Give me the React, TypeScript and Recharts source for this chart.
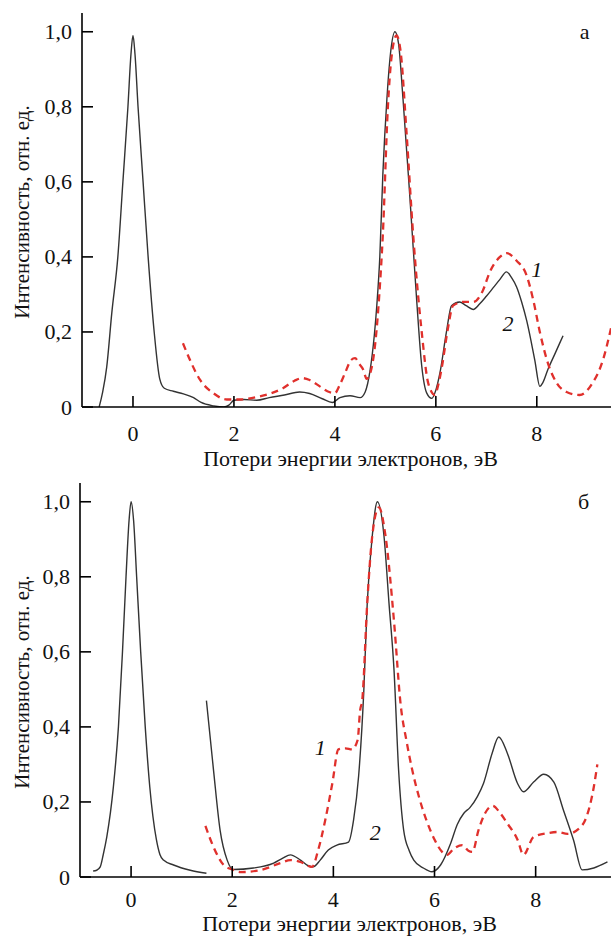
import React from "react";
import { LineChart, Line, XAxis, YAxis, ReferenceDot, Label } from "recharts";

// ---------- data (energy loss, eV ; intensity, rel. units) ----------
const xTicks = [0, 2, 4, 6, 8];
const yTicks = [0, 0.2, 0.4, 0.6, 0.8, 1.0];
const yTickLabels = ["0", "0,2", "0,4", "0,6", "0,8", "1,0"];
const xTitle = "Потери энергии электронов, эВ";
const yTitle = "Интенсивность, отн. ед.";

// panel "а" – curve 2 (solid)
const aCurve2X = [-0.67, -0.6, -0.52, -0.42, -0.3, -0.2, -0.1, -0.04, 0, 0.04, 0.1, 0.2, 0.3, 0.42, 0.53, 0.62, 0.8, 1.0, 1.2, 1.35, 1.6, 1.8, 1.9, 2.0, 2.2, 2.45, 2.7, 3.0, 3.3, 3.5, 3.75, 3.95, 4.1, 4.3, 4.5, 4.6, 4.7, 4.78, 4.83, 4.89, 4.95, 5.03, 5.1, 5.19, 5.26, 5.35, 5.49, 5.62, 5.72, 5.82, 5.92, 6.0, 6.08, 6.21, 6.31, 6.47, 6.6, 6.74, 6.87, 7.0, 7.15, 7.27, 7.4, 7.5, 7.6, 7.7, 7.8, 7.96, 8.06, 8.12, 8.22, 8.37, 8.52];
const aCurve2Y = [0, 0.04, 0.107, 0.25, 0.4, 0.6, 0.8, 0.94, 0.99, 0.94, 0.8, 0.6, 0.4, 0.2, 0.075, 0.05, 0.042, 0.035, 0.025, 0.012, 0.003, 0, 0.005, 0.018, 0.02, 0.018, 0.025, 0.032, 0.04, 0.036, 0.022, 0.012, 0.025, 0.03, 0.025, 0.04, 0.1, 0.19, 0.27, 0.4, 0.62, 0.82, 0.94, 1.0, 0.97, 0.82, 0.55, 0.285, 0.11, 0.037, 0.023, 0.045, 0.09, 0.2, 0.27, 0.28, 0.27, 0.26, 0.275, 0.295, 0.32, 0.34, 0.36, 0.345, 0.32, 0.28, 0.23, 0.125, 0.055, 0.065, 0.1, 0.145, 0.19];

// panel "а" – curve 1 (dashed)
const aCurve1X = [0.99, 1.13, 1.33, 1.59, 1.86, 2.1, 2.5, 2.97, 3.2, 3.35, 3.5, 3.7, 3.85, 4.0, 4.1, 4.2, 4.32, 4.4, 4.48, 4.56, 4.63, 4.72, 4.8, 4.88, 4.95, 5.05, 5.12, 5.22, 5.3, 5.42, 5.55, 5.72, 5.85, 5.98, 6.05, 6.12, 6.24, 6.34, 6.54, 6.74, 6.93, 7.07, 7.27, 7.4, 7.6, 7.8, 7.93, 8.06, 8.22, 8.4, 8.59, 8.85, 9.1, 9.31, 9.47];
const aCurve1Y = [0.17, 0.125, 0.072, 0.037, 0.02, 0.02, 0.028, 0.05, 0.07, 0.077, 0.072, 0.055, 0.042, 0.037, 0.06, 0.09, 0.125, 0.13, 0.115, 0.1, 0.075, 0.1, 0.17, 0.3, 0.46, 0.8, 0.93, 0.99, 0.95, 0.73, 0.46, 0.2, 0.063, 0.032, 0.06, 0.107, 0.21, 0.27, 0.28, 0.28, 0.31, 0.36, 0.4, 0.41, 0.39, 0.35, 0.285, 0.2, 0.117, 0.063, 0.04, 0.032, 0.063, 0.125, 0.21];

// panel "б" – curve 2 (solid), two pieces
const bCurve2aX = [-0.75, -0.68, -0.61, -0.55, -0.48, -0.35, -0.25, -0.17, -0.1, -0.04, 0, 0.05, 0.11, 0.19, 0.28, 0.37, 0.5, 0.57, 0.64, 0.84, 1.17, 1.49];
const bCurve2aY = [0.016, 0.018, 0.027, 0.06, 0.107, 0.24, 0.4, 0.6, 0.8, 0.95, 1.0, 0.95, 0.8, 0.6, 0.4, 0.24, 0.1, 0.06, 0.045, 0.032, 0.018, 0.01];
const bCurve2bX = [1.49, 1.63, 1.76, 1.9, 2.02, 2.42, 2.82, 3.0, 3.15, 3.35, 3.5, 3.6, 3.74, 3.9, 4.07, 4.3, 4.4, 4.5, 4.6, 4.67, 4.77, 4.87, 5.0, 5.1, 5.2, 5.29, 5.39, 5.5, 5.59, 5.78, 5.95, 6.12, 6.32, 6.45, 6.58, 6.7, 6.85, 6.97, 7.14, 7.27, 7.44, 7.64, 7.76, 7.96, 8.16, 8.36, 8.55, 8.75, 8.92, 9.15, 9.42];
const bCurve2bY = [0.47, 0.285, 0.125, 0.045, 0.02, 0.024, 0.037, 0.05, 0.059, 0.045, 0.03, 0.027, 0.045, 0.072, 0.085, 0.093, 0.152, 0.27, 0.49, 0.73, 0.91, 1.0, 0.91, 0.73, 0.55, 0.285, 0.125, 0.07, 0.045, 0.024, 0.014, 0.032, 0.09, 0.14, 0.17, 0.185, 0.215, 0.25, 0.33, 0.373, 0.33, 0.25, 0.227, 0.253, 0.274, 0.253, 0.178, 0.098, 0.019, 0.024, 0.04];

// panel "б" – curve 1 (dashed)
const bCurve1X = [1.47, 1.63, 1.83, 2.0, 2.16, 2.55, 2.95, 3.15, 3.35, 3.58, 3.7, 3.84, 3.98, 4.1, 4.24, 4.37, 4.48, 4.53, 4.57, 4.67, 4.77, 4.9, 5.03, 5.2, 5.33, 5.45, 5.56, 5.7, 5.86, 6.0, 6.15, 6.25, 6.38, 6.55, 6.67, 6.75, 6.87, 7.0, 7.15, 7.3, 7.44, 7.64, 7.76, 7.96, 8.24, 8.43, 8.63, 8.89, 9.03, 9.15, 9.22];
const bCurve1Y = [0.136, 0.08, 0.032, 0.02, 0.013, 0.018, 0.037, 0.045, 0.04, 0.027, 0.072, 0.152, 0.25, 0.34, 0.343, 0.34, 0.365, 0.445, 0.47, 0.73, 0.91, 0.985, 0.91, 0.68, 0.46, 0.36, 0.285, 0.21, 0.144, 0.1, 0.067, 0.059, 0.075, 0.085, 0.07, 0.067, 0.125, 0.17, 0.19, 0.17, 0.143, 0.1, 0.059, 0.107, 0.117, 0.12, 0.115, 0.133, 0.17, 0.24, 0.3];

const zip = (xs: number[], ys: number[]) => xs.map((x, i) => ({ x, y: ys[i] }));

const FONT = "Liberation Serif";
const INK = "#111";
const RED = "#e0302c";
const DARK = "#333";
const tickStyle = { fontFamily: FONT, fontSize: 22 };
const titleStyle = { fontFamily: FONT, fontSize: 22 };
const yTitleStyle = { fontFamily: FONT, fontSize: 21 };

const makeXTick = (labelDy: number) => (props: any) => {
  const { x, y, payload } = props;
  return (
    <g>
      <line x1={x} y1={y} x2={x} y2={y - 11} stroke="#000" strokeWidth={1.6} />
      <text x={x} y={y + labelDy} textAnchor="middle" style={tickStyle} fill={INK}>
        {payload.value}
      </text>
    </g>
  );
};

const YTick = (props: any) => {
  const { x, y, payload } = props;
  const idx = yTicks.indexOf(payload.value);
  return (
    <g>
      <line x1={x} y1={y} x2={x + 11} y2={y} stroke="#000" strokeWidth={1.6} />
      <text x={x - 10} y={y + 7.5} textAnchor="end" style={tickStyle} fill={INK}>
        {idx >= 0 ? yTickLabels[idx] : payload.value}
      </text>
    </g>
  );
};

const makeXTitle = (dy: number) => (props: any) => {
  const vb = props.viewBox || { x: 0, y: 0, width: 0, height: 0 };
  return (
    <text x={vb.x + vb.width / 2 + 4} y={vb.y + dy} textAnchor="middle" style={titleStyle} fill={INK}>
      {xTitle}
    </text>
  );
};

const YTitle = (props: any) => {
  const vb = props.viewBox || { x: 0, y: 0, width: 0, height: 0 };
  const cx = vb.x + 29;
  const cy = vb.y + vb.height / 2 + 2;
  return (
    <text x={cx} y={cy} transform={`rotate(-90 ${cx} ${cy})`} textAnchor="middle" style={yTitleStyle} fill={INK}>
      {yTitle}
    </text>
  );
};

const makeAnn = (text: string, italic: boolean) => (props: any) => {
  const vb = props.viewBox || { x: 0, y: 0 };
  const w = vb.width || 0;
  const h = vb.height || 0;
  return (
    <text
      x={vb.x + w / 2}
      y={vb.y + h / 2 + 7}
      textAnchor="middle"
      style={{ ...tickStyle, fontStyle: italic ? "italic" : "normal" }}
      fill={INK}
    >
      {text}
    </text>
  );
};

type PanelProps = {
  top: number;
  height: number;
  marginTop: number;
  plotBottom: number;
  yAxisWidth: number;
  tickDy: number;
  titleDy: number;
  dashed: { x: number; y: number }[];
  solid: { x: number; y: number }[][];
  letter: string;
  l1: [number, number];
  l2: [number, number];
  domainX: [number, number];
};

const Panel = (p: PanelProps) => (
  <div style={{ position: "absolute", left: 0, top: p.top, width: 611, height: p.height }}>
    <LineChart width={611} height={p.height} margin={{ top: p.marginTop, right: 0, bottom: 0, left: 0 }}>
      <XAxis
        type="number"
        dataKey="x"
        domain={p.domainX}
        allowDataOverflow
        ticks={xTicks}
        tick={makeXTick(p.tickDy)}
        tickLine={false}
        tickSize={0}
        tickMargin={0}
        height={p.height - p.plotBottom}
        axisLine={{ stroke: "#000", strokeWidth: 1.6 }}
        interval={0}
      >
        <Label content={makeXTitle(p.titleDy)} />
      </XAxis>
      <YAxis
        type="number"
        dataKey="y"
        domain={[0, 1.05]}
        allowDataOverflow
        ticks={yTicks}
        tick={<YTick />}
        tickLine={false}
        tickSize={0}
        tickMargin={0}
        width={p.yAxisWidth}
        axisLine={{ stroke: "#000", strokeWidth: 1.6 }}
        interval={0}
      >
        <Label content={<YTitle />} />
      </YAxis>
      {p.solid.map((seg, i) => (
        <Line
          key={"s" + i}
          data={seg}
          dataKey="y"
          type="monotone"
          stroke={DARK}
          strokeWidth={1.4}
          dot={false}
          isAnimationActive={false}
        />
      ))}
      <Line
        data={p.dashed}
        dataKey="y"
        type="monotone"
        stroke={RED}
        strokeWidth={2.3}
        strokeDasharray="7 5"
        dot={false}
        isAnimationActive={false}
      />
      <ReferenceDot x={8.95} y={1.0} r={0} fill="none" stroke="none" label={{ content: makeAnn(p.letter, false) }} />
      <ReferenceDot x={p.l1[0]} y={p.l1[1]} r={0} fill="none" stroke="none" label={{ content: makeAnn("1", true) }} />
      <ReferenceDot x={p.l2[0]} y={p.l2[1]} r={0} fill="none" stroke="none" label={{ content: makeAnn("2", true) }} />
    </LineChart>
  </div>
);

export default function App() {
  return (
    <div style={{ position: "absolute", left: 0, top: 0, width: 611, height: 936, background: "#fff", overflow: "hidden" }}>
      <Panel
        top={0}
        height={472}
        marginTop={13}
        plotBottom={407}
        yAxisWidth={82}
        tickDy={34}
        titleDy={59}
        dashed={zip(aCurve1X, aCurve1Y)}
        solid={[zip(aCurve2X, aCurve2Y)]}
        letter="а"
        l1={[8.0, 0.365]}
        l2={[7.43, 0.22]}
        domainX={[-1.01, 9.47]}
      />
      <Panel
        top={466}
        height={470}
        marginTop={17}
        plotBottom={411}
        yAxisWidth={80}
        tickDy={29.5}
        titleDy={54}
        dashed={zip(bCurve1X, bCurve1Y)}
        solid={[zip(bCurve2aX, bCurve2aY), zip(bCurve2bX, bCurve2bY)]}
        letter="б"
        l1={[3.74, 0.344]}
        l2={[4.83, 0.117]}
        domainX={[-1.01, 9.49]}
      />
    </div>
  );
}
